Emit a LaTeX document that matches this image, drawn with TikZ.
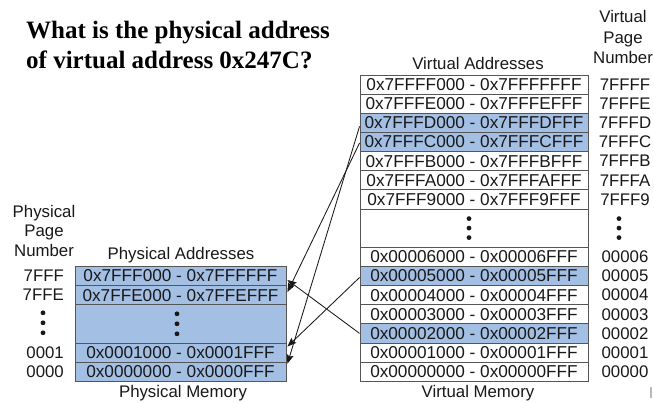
\documentclass[tikz,border=0pt]{standalone}
\usepackage{fontspec}
\setmainfont{Liberation Serif}
\newfontfamily\labelfont{Liberation Sans}
\usetikzlibrary{arrows.meta}
\definecolor{pageblue}{RGB}{164,191,228}
\definecolor{edgegray}{RGB}{85,85,85}
\definecolor{inkgray}{RGB}{25,25,25}
\begin{document}
\begin{tikzpicture}[x=1pt,y=-1pt,
  vrow/.style={rectangle,draw=edgegray,line width=0.9pt,minimum width=228pt,
    minimum height=19.14pt,inner sep=0pt,text=inkgray,
    font=\labelfont\fontsize{17.2}{20}\selectfont},
  prow/.style={vrow,fill=pageblue,minimum width=211pt},
  mapped/.style={fill=pageblue},
  lbl/.style={inner sep=0pt,text=inkgray,font=\labelfont\fontsize{16.8}{20}\selectfont},
  vdot/.style={circle,fill=inkgray,inner sep=0pt,minimum size=4.8pt},
  maparrow/.style={draw=inkgray,line width=0.85pt,
    -{Stealth[length=9pt,width=7pt,inset=1.5pt]}},
  titletext/.style={anchor=base west,inner sep=0pt,
    font=\bfseries\fontsize{25}{30}\selectfont}]

\useasboundingbox (0,0) rectangle (654,403);
\fill[white] (0,0) rectangle (654,403);

% question
\node[titletext] (q1) at (26,39) {What is the physical address};
\node[titletext] (q2) at (26,69) {of virtual address 0x247C?};

% virtual memory column headers
\node[lbl,anchor=base] (vpnh1) at (623,23) {Virtual};
\node[lbl,anchor=base] (vpnh2) at (623,43.5) {Page};
\node[lbl,anchor=base] (vpnh3) at (623,64) {Number};
\node[lbl,anchor=base] (vaddr) at (478,70) {Virtual Addresses};

% virtual pages
\node[vrow] (vFFFF) at (474,84.57) {0x7FFFF000 - 0x7FFFFFFF};
\node[vrow] (vFFFE) at (474,103.71) {0x7FFFE000 - 0x7FFFEFFF};
\node[vrow,mapped] (vFFFD) at (474,122.85) {0x7FFFD000 - 0x7FFFDFFF};
\node[vrow,mapped] (vFFFC) at (474,141.99) {0x7FFFC000 - 0x7FFFCFFF};
\node[vrow] (vFFFB) at (474,161.13) {0x7FFFB000 - 0x7FFFBFFF};
\node[vrow] (vFFFA) at (474,180.27) {0x7FFFA000 - 0x7FFFAFFF};
\node[vrow] (vFFF9) at (474,199.41) {0x7FFF9000 - 0x7FFF9FFF};
\node[vrow,minimum height=38.28pt] (vgap) at (474,228.12) {};
\node[vrow] (v0006) at (474,256.83) {0x00006000 - 0x00006FFF};
\node[vrow,mapped] (v0005) at (474,275.97) {0x00005000 - 0x00005FFF};
\node[vrow] (v0004) at (474,295.11) {0x00004000 - 0x00004FFF};
\node[vrow] (v0003) at (474,314.25) {0x00003000 - 0x00003FFF};
\node[vrow,mapped] (v0002) at (474,333.39) {0x00002000 - 0x00002FFF};
\node[vrow] (v0001) at (474,352.53) {0x00001000 - 0x00001FFF};
\node[vrow] (v0000) at (474,371.67) {0x00000000 - 0x00000FFF};
\node[vdot] (vd1) at (469,218.6) {};
\node[vdot] (vd2) at (469,228.1) {};
\node[vdot] (vd3) at (469,237.6) {};
\node[lbl,anchor=base] (vmem) at (478,398) {Virtual Memory};

% virtual page numbers
\node[lbl] (nFFFF) at (625,84.57) {7FFFF};
\node[lbl] (nFFFE) at (625,103.71) {7FFFE};
\node[lbl] (nFFFD) at (625,122.85) {7FFFD};
\node[lbl] (nFFFC) at (625,141.99) {7FFFC};
\node[lbl] (nFFFB) at (625,161.13) {7FFFB};
\node[lbl] (nFFFA) at (625,180.27) {7FFFA};
\node[lbl] (nFFF9) at (625,199.41) {7FFF9};
\node[vdot] (nd1) at (619,218.6) {};
\node[vdot] (nd2) at (619,228.1) {};
\node[vdot] (nd3) at (619,237.6) {};
\node[lbl] (n0006) at (625,256.83) {00006};
\node[lbl] (n0005) at (625,275.97) {00005};
\node[lbl] (n0004) at (625,295.11) {00004};
\node[lbl] (n0003) at (625,314.25) {00003};
\node[lbl] (n0002) at (625,333.39) {00002};
\node[lbl] (n0001) at (625,352.53) {00001};
\node[lbl] (n0000) at (625,371.67) {00000};

% physical memory
\node[lbl,anchor=base] (ppnh1) at (44,218) {Physical};
\node[lbl,anchor=base] (ppnh2) at (44,237) {Page};
\node[lbl,anchor=base] (ppnh3) at (44,257) {Number};
\node[lbl,anchor=base] (paddr) at (181,260) {Physical Addresses};

\node[prow] (p7FFF) at (180.5,275.97) {0x7FFF000 - 0x7FFFFFF};
\node[prow] (p7FFE) at (180.5,295.11) {0x7FFE000 - 0x7FFEFFF};
\node[prow,minimum height=38.28pt] (pgap) at (180.5,323.82) {};
\node[prow] (p0001) at (180.5,352.53) {0x0001000 - 0x0001FFF};
\node[prow] (p0000) at (180.5,371.67) {0x0000000 - 0x0000FFF};
\node[vdot] (pd1) at (177,313.8) {};
\node[vdot] (pd2) at (177,323.8) {};
\node[vdot] (pd3) at (177,333.8) {};
\node[lbl,anchor=base] (pmem) at (183,398) {Physical Memory};

% physical page numbers
\node[lbl,anchor=east] (m7FFF) at (64,275.97) {7FFF};
\node[lbl,anchor=east] (m7FFE) at (64,295.11) {7FFE};
\node[vdot] (md1) at (43,312.8) {};
\node[vdot] (md2) at (43,322.8) {};
\node[vdot] (md3) at (43,332.8) {};
\node[lbl,anchor=east] (m0001) at (64,352.53) {0001};
\node[lbl,anchor=east] (m0000) at (64,371.67) {0000};

% page mappings
\draw[maparrow] (v0002.west) -- ([xshift=1pt,yshift=-4pt]p7FFF.east);
\draw[maparrow] ([yshift=-1pt]vFFFC.west) -- ([xshift=1pt,yshift=3pt]p7FFE.east);
\draw[maparrow] ([yshift=-3.5pt]vFFFD.west) -- ([xshift=1pt,yshift=8pt]p0000.east);
\draw[maparrow] ([yshift=-1.5pt]v0005.west) -- ([xshift=1pt,yshift=6pt]p0001.east);

% small mark at the lower right edge
\draw[gray!55,line width=1.6pt] (651,387) -- (651,398);
\end{tikzpicture}
\end{document}
